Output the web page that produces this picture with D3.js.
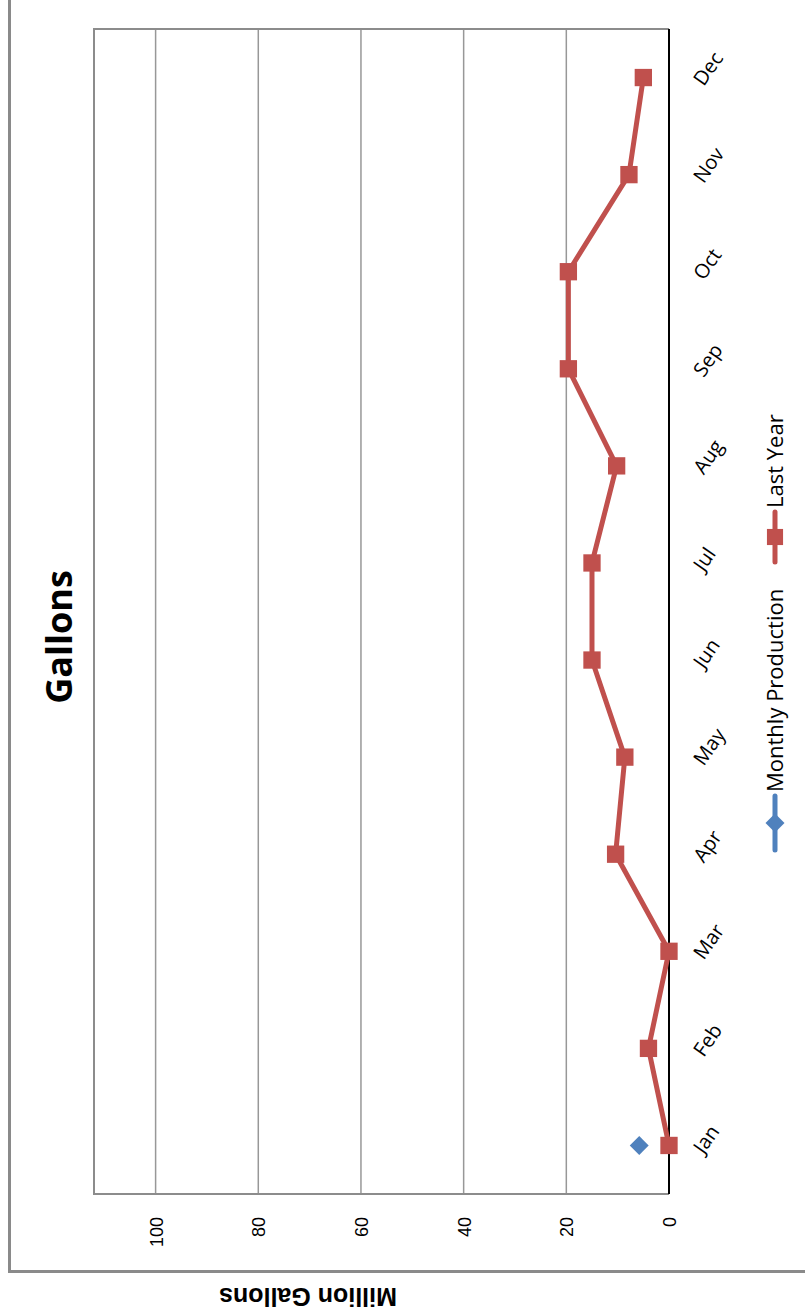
<!DOCTYPE html>
<html>
<head>
<meta charset="utf-8">
<script src="https://cdn.jsdelivr.net/npm/d3@7"></script>
<style>
  html, body { margin: 0; padding: 0; background: #ffffff; }
  svg { display: block; }
</style>
</head>
<body>
<svg id="chart" width="805" height="1314"></svg>
<script>
// Monthly gallons, drawn as a chart turned on its side (months run bottom to top).
const months = ["Jan", "Feb", "Mar", "Apr", "May", "Jun", "Jul", "Aug", "Sep", "Oct", "Nov", "Dec"];
const lastYear = [0, 4.0, 0, 10.4, 8.6, 15.0, 15.0, 10.2, 19.6, 19.6, 7.8, 5.0];
const monthlyProduction = [5.8]; // only January reported so far
const valueTicks = [0, 20, 40, 60, 80, 100];
const valueMax = 112;
const seriesNames = ["Monthly Production", "Last Year"];
const seriesColors = ["#4F81BD", "#C0504D"];
const chartTitle = "Gallons";
const valueTitle = "Million Gallons";

const svg = d3.select("#chart");

// plot area in page coordinates
const plot = { left: 94, right: 669, top: 29, bottom: 1194 };

const x = d3.scaleLinear().domain([0, valueMax]).range([plot.right, plot.left]);
const y = d3.scalePoint().domain(months).range([plot.bottom, plot.top]).padding(0.5);

// outer chart frame
svg.append("path")
  .attr("d", `M9.5,0 V1271.5 H805`)
  .attr("fill", "none")
  .attr("stroke", "#8a8a8a")
  .attr("stroke-width", 3);

// gridlines
svg.append("g")
  .selectAll("line")
  .data(valueTicks.filter(t => t > 0))
  .join("line")
  .attr("x1", d => x(d)).attr("x2", d => x(d))
  .attr("y1", plot.top).attr("y2", plot.bottom)
  .attr("stroke", "#989898")
  .attr("stroke-width", 1.5);

// plot border
svg.append("path")
  .attr("d", `M${plot.right},${plot.top} H${plot.left} V${plot.bottom} H${plot.right}`)
  .attr("fill", "none")
  .attr("stroke", "#8c8c8c")
  .attr("stroke-width", 2);

// zero line (category axis)
svg.append("line")
  .attr("x1", x(0)).attr("x2", x(0))
  .attr("y1", plot.top).attr("y2", plot.bottom)
  .attr("stroke", "#000")
  .attr("stroke-width", 2);

// value axis labels
const valueAxis = svg.append("g")
  .attr("transform", `translate(0,${plot.bottom})`)
  .call(d3.axisBottom(x).tickValues(valueTicks).tickSize(0).tickFormat(d3.format("d")));
valueAxis.select(".domain").remove();
valueAxis.selectAll("text")
  .attr("x", 0).attr("y", 0).attr("dy", "0.36em")
  .attr("transform", "translate(0,23) rotate(-90)")
  .attr("text-anchor", "end")
  .attr("font-family", "'Liberation Sans', Arial, sans-serif")
  .attr("font-size", 18)
  .attr("fill", "#000");

// month labels
const monthAxis = svg.append("g")
  .attr("transform", `translate(${plot.right},0)`)
  .call(d3.axisRight(y).tickSize(0));
monthAxis.select(".domain").remove();
monthAxis.selectAll("text")
  .attr("x", 0).attr("y", 0).attr("dy", "0.35em")
  .attr("transform", "translate(29,5) rotate(-55)")
  .attr("text-anchor", "start")
  .attr("font-family", "'Open Sans', sans-serif")
  .attr("font-size", 20)
  .attr("fill", "#000");

// Last Year line and markers
const line = d3.line()
  .x(d => x(d.v))
  .y(d => y(d.m));
const lastYearPts = months.map((m, i) => ({ m, v: lastYear[i] }));
svg.append("path")
  .datum(lastYearPts)
  .attr("d", line)
  .attr("fill", "none")
  .attr("stroke", seriesColors[1])
  .attr("stroke-width", 5)
  .attr("stroke-linejoin", "round");
svg.append("g")
  .selectAll("path")
  .data(lastYearPts)
  .join("path")
  .attr("d", d3.symbol(d3.symbolSquare, 300))
  .attr("transform", d => `translate(${x(d.v)},${y(d.m)})`)
  .attr("fill", seriesColors[1]);

// Monthly Production line and markers
const prodPts = monthlyProduction.map((v, i) => ({ m: months[i], v }));
svg.append("path")
  .datum(prodPts)
  .attr("d", line)
  .attr("fill", "none")
  .attr("stroke", seriesColors[0])
  .attr("stroke-width", 5);
svg.append("g")
  .selectAll("path")
  .data(prodPts)
  .join("path")
  .attr("d", d3.symbol(d3.symbolSquare, 180))
  .attr("transform", d => `translate(${x(d.v)},${y(d.m)}) rotate(45)`)
  .attr("fill", seriesColors[0]);

// chart title
svg.append("text")
  .attr("transform", "translate(72,637) rotate(-90)")
  .attr("text-anchor", "middle")
  .attr("font-family", "'Open Sans', sans-serif")
  .attr("font-weight", "bold")
  .attr("font-size", 36)
  .attr("fill", "#000")
  .text(chartTitle);

// value axis title (upside down)
svg.append("text")
  .attr("transform", "translate(308,1288) rotate(180)")
  .attr("text-anchor", "middle")
  .attr("font-family", "'Liberation Sans', Arial, sans-serif")
  .attr("font-weight", "bold")
  .attr("font-size", 25)
  .attr("fill", "#000")
  .text(valueTitle);

// legend, stacked from bottom to top
const legend = svg.append("g").attr("transform", "translate(775,0)");
const legendItems = [
  { name: seriesNames[0], color: seriesColors[0], y0: 850, y1: 796, shape: "diamond" },
  { name: seriesNames[1], color: seriesColors[1], y0: 562, y1: 512, shape: "square" }
];
legendItems.forEach(item => {
  const g = legend.append("g");
  g.append("line")
    .attr("x1", 0).attr("x2", 0)
    .attr("y1", item.y0).attr("y2", item.y1)
    .attr("stroke", item.color)
    .attr("stroke-width", 5)
    .attr("stroke-linecap", "round");
  const cy = (item.y0 + item.y1) / 2;
  g.append("path")
    .attr("d", d3.symbol(d3.symbolSquare, item.shape === "diamond" ? 180 : 260))
    .attr("transform", `translate(0,${cy})` + (item.shape === "diamond" ? " rotate(45)" : ""))
    .attr("fill", item.color);
  g.append("text")
    .attr("transform", `translate(0,${item.y1 - 4}) rotate(-90)`)
    .attr("dy", "0.35em")
    .attr("text-anchor", "start")
    .attr("font-family", "'Open Sans', sans-serif")
    .attr("font-size", 22)
    .attr("fill", "#000")
    .text(item.name);
});
</script>
</body>
</html>
